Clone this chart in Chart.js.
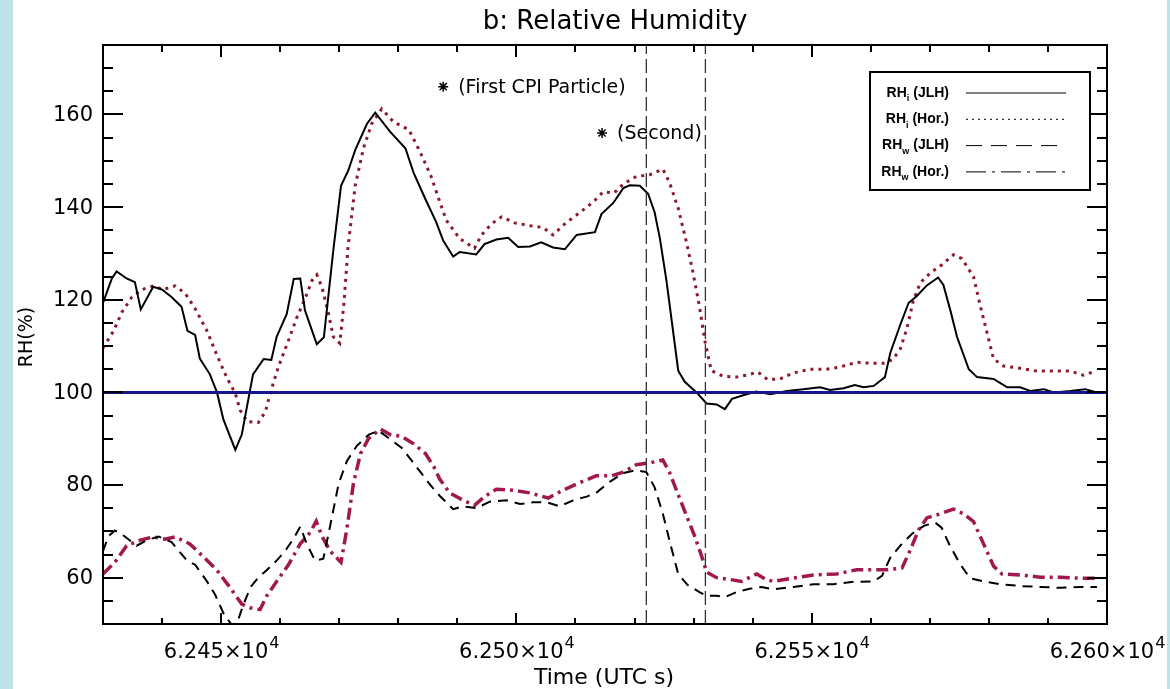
<!DOCTYPE html>
<html lang="en">
<head>
<meta charset="UTF-8">
<title>b: Relative Humidity</title>
<script src="https://cdn.jsdelivr.net/npm/chart.js@4.4.0/dist/chart.umd.min.js"></script>
<style>
  html, body { margin: 0; padding: 0; background: #bde3e6; }
  .wrap { position: absolute; left: 13px; top: 0; width: 1154px; height: 689px; background: #fff; }
</style>
</head>
<body>
<div class="wrap"><canvas id="rh"></canvas></div>
<script>
// RH over ice, JLH (solid)
const timeRhiJlh = [62430, 62431.5, 62432.3, 62434, 62435.4, 62436.4, 62438.5, 62440, 62441.6, 62443.3,
  62444.3, 62445.6, 62446.4, 62448.1, 62449.3, 62450.4, 62452.4, 62453.5, 62455.4, 62457.2,
  62458.5, 62459.4, 62461.1, 62462.3, 62463.4, 62464.2, 62466.2, 62467.4, 62469, 62470.3,
  62471.5, 62472.7, 62474.7, 62476.1, 62478.6, 62481.2, 62482.6, 62484.6, 62486.4, 62487.6,
  62489.3, 62490.4, 62493.2, 62494.6, 62496.6, 62498.6, 62500.3, 62502.3, 62504.2, 62506.2,
  62508.2, 62510.2, 62513.3, 62514.4, 62516.4, 62518.1, 62519.2, 62520.9, 62522.3, 62523.4,
  62524.3, 62525.4, 62527.4, 62528.5, 62530.5, 62532.2, 62533.9, 62535.3, 62536.5, 62538.4,
  62540.6, 62543, 62545.8, 62548.6, 62551.4, 62553.1, 62555.4, 62557.3, 62558.8, 62560.5,
  62562.4, 62563.3, 62565, 62566.4, 62567.8, 62569.5, 62571.4, 62572.3, 62573.5, 62574.6,
  62576.6, 62578, 62580.8, 62583.1, 62585.3, 62587, 62589.3, 62591, 62593.8, 62596.3, 62598.3];
const rhiJlh = [119.3, 124.6, 126.1, 124.6, 123.8, 117.9, 122.8, 122.2, 120.6, 118.5,
  113.3, 112.4, 107.3, 103.9, 100, 94.1, 87.6, 90.9, 103.9, 107.2,
  107, 112, 116.9, 124.5, 124.6, 117.7, 110.4, 111.9, 130.7, 144.6,
  147.8, 152.3, 158, 160.4, 156.3, 152.7, 147.4, 141.7, 136.8, 132.8,
  129.3, 130.3, 129.8, 132, 133, 133.4, 131.4, 131.5, 132.4, 131.3,
  130.9, 134, 134.6, 138.5, 140.9, 144.1, 144.7, 144.6, 142.9, 138.9,
  133.2, 124.2, 104.7, 102.3, 100, 97.6, 97.4, 96.4, 98.6, 99.4,
  100.2, 99.6, 100.3, 100.7, 101.1, 100.5, 100.9, 101.6, 101.1, 101.4,
  103.3, 108.5, 114.6, 119.3, 120.8, 123.1, 124.8, 123.2, 117.6, 112,
  105, 103.3, 102.9, 101.1, 101.1, 100.3, 100.7, 100, 100.3, 100.7, 100];

// RH over ice, Hor. (dotted)
const timeRhiHor = [62430, 62431.8, 62433.2, 62434.9, 62436.6, 62438.5, 62440.2, 62442.2, 62443.9, 62445.6,
  62447.6, 62449.3, 62451, 62452.4, 62453.2, 62454.4, 62456.3, 62457.5, 62458.3, 62459.7,
  62461.4, 62462.8, 62464.2, 62465.4, 62466.2, 62467.1, 62468.2, 62469, 62470.1, 62470.8,
  62471.5, 62472.7, 62474.1, 62475.5, 62477.2, 62479.2, 62481.8, 62483.7, 62485.5, 62486.8,
  62488.1, 62490.4, 62492.9, 62494.1, 62495.8, 62497.5, 62499.7, 62502.3, 62504.5, 62506.2,
  62508.2, 62510.4, 62513, 62514.7, 62516.6, 62518.1, 62520.3, 62522.6, 62524.8, 62525.9,
  62527.4, 62528.8, 62529.9, 62531, 62531.9, 62533, 62535, 62537.2, 62538.9, 62540.9,
  62542.5, 62544.6, 62546.9, 62549.7, 62552.5, 62554.8, 62557.6, 62559.9, 62562.4, 62563.8,
  62565, 62566.1, 62567.2, 62568.4, 62570.1, 62572.1, 62574, 62575.4, 62577.4, 62578.5,
  62579.7, 62580.8, 62582.5, 62585.3, 62588.1, 62591, 62593.8, 62596, 62598];
const rhiHor = [109.6, 113.3, 117.3, 120.6, 122.2, 123, 122.2, 123, 121.4, 118.1,
  113.3, 108, 103.1, 99.8, 96.2, 93.7, 93.5, 95.8, 99.8, 105.5,
  111.2, 116.1, 120.2, 124.2, 125.4, 122.6, 116.9, 112, 110.6, 119.3,
  131.5, 144.6, 152.7, 158, 161.2, 158.4, 156.7, 151.9, 146.8, 142,
  137.2, 133.2, 131.1, 134, 136.4, 137.9, 136.6, 136, 135.6, 134,
  136.4, 138.5, 141.1, 143.3, 143.1, 145, 146.6, 147, 148.2, 145.4,
  139.7, 132.4, 125.9, 118.5, 111.2, 104.7, 103.5, 103.3, 103.7, 104.4,
  102.8, 102.9, 104.2, 105, 105, 105.5, 106.5, 106.3, 106.3, 107.2,
  109.4, 113.7, 119.8, 123.7, 125.8, 127.6, 129.7, 128.9, 125, 118.9,
  112.8, 107.2, 105.7, 105.2, 104.6, 104.6, 104.6, 103.7, 104.6];

// RH over water, JLH (dashed)
const timeRhwJlh = [62430, 62430.9, 62432, 62433.7, 62435.7, 62437.4, 62439.4, 62441.6, 62444.2, 62445.6,
  62447.6, 62449, 62450.4, 62451.8, 62452.7, 62453.8, 62455, 62456.3, 62457.7, 62459.4,
  62460.8, 62462.3, 62463.4, 62464.5, 62465.9, 62467.3, 62468.5, 62469.9, 62471.3, 62473,
  62475, 62476.7, 62478.6, 62480.6, 62482.3, 62484, 62485.5, 62487, 62489.3, 62490.9,
  62493.2, 62495.5, 62498.3, 62500.6, 62502.8, 62505.1, 62507.3, 62509.6, 62511.9, 62513.5,
  62515.8, 62518.1, 62520.3, 62522, 62523.4, 62524.8, 62525.9, 62527.4, 62529, 62531,
  62532.2, 62533.9, 62535.3, 62537.3, 62539.5, 62541.5, 62543.5, 62546.9, 62550.3, 62553.7,
  62557.1, 62560.5, 62561.9, 62563.3, 62565, 62567, 62569, 62570.9, 62572, 62573.4,
  62575.1, 62576.8, 62579.1, 62581.9, 62585.3, 62588.7, 62592.1, 62595.5, 62598.3];
const rhwJlh = [65.7, 68.9, 70.2, 68.9, 66.9, 68.1, 68.9, 67.7, 63.7, 62.8,
  59.2, 56.3, 52.3, 49.8, 50.2, 54.3, 58, 60, 61.6, 63.7,
  65.7, 68.5, 71, 67.3, 63.7, 64.1, 71.4, 80.3, 85.2, 88.5,
  90.9, 91.7, 89.9, 88, 85.2, 82.4, 79.9, 77.7, 74.8, 75.4,
  75, 76.4, 76.7, 75.9, 76.3, 76.3, 75.4, 76.7, 77.5, 78.3,
  80.7, 82.6, 83.2, 82.8, 79.5, 73.8, 68.1, 60.8, 58.4, 56.9,
  56.1, 56.1, 55.8, 56.9, 57.6, 58, 57.5, 58, 58.6, 58.6,
  59.1, 59.2, 60.4, 64.3, 66.9, 69.5, 71.2, 71.9, 70.8, 66.9,
  63, 59.9, 59.2, 58.6, 58.2, 58, 57.8, 58, 58];

// RH over water, Hor. (dash-dot)
const timeRhwHor = [62430, 62432, 62434, 62436.3, 62438.5, 62440.5, 62442.2, 62444.7, 62447, 62449.3,
  62451.2, 62453.5, 62454.9, 62456.6, 62457.7, 62459.4, 62461.4, 62463.4, 62465.1, 62466.1,
  62467.1, 62468.5, 62470.3, 62471.3, 62472.4, 62473.6, 62475, 62477, 62478.6, 62480.6,
  62482.6, 62484.6, 62486, 62487, 62488.7, 62490.7, 62492.9, 62494.6, 62496.6, 62499.4,
  62502.3, 62505.4, 62507.9, 62510.7, 62513.5, 62516.1, 62518.1, 62520.3, 62522.6, 62524.8,
  62525.9, 62527.4, 62528.8, 62530.2, 62531.3, 62532.2, 62533.9, 62536.2, 62538.1, 62540.7,
  62542.3, 62543.5, 62546.9, 62550.3, 62554.2, 62557.6, 62560.5, 62562.7, 62565.3, 62566.7,
  62568.1, 62569.5, 62571.8, 62574, 62575.7, 62577.4, 62579.1, 62580.8, 62582.2, 62585.3,
  62588.7, 62592.1, 62595.5, 62598.3];
const rhwHor = [60.8, 63.3, 66.9, 68.1, 68.8, 68.3, 68.8, 67.3, 64.5, 61.6,
  58.4, 54.3, 53.5, 53.1, 56, 59.2, 62.8, 67.3, 69.8, 72.2,
  68.9, 65.7, 63.3, 70.6, 80.3, 86.8, 90.1, 92.1, 90.9, 90.5,
  88.9, 86.8, 84, 81.3, 78.3, 76.9, 75.6, 77.5, 79.1, 78.9,
  78.3, 77.2, 78.9, 80.5, 82, 82, 82.8, 84.4, 84.8, 85.4,
  82.8, 77.9, 73.4, 68.9, 64.9, 61.2, 60, 59.6, 59.2, 60.8,
  59.6, 59.2, 59.9, 60.6, 60.8, 61.7, 61.7, 61.7, 62.1, 66,
  70.3, 72.9, 73.8, 74.8, 73.8, 72.1, 67.3, 62.5, 60.8, 60.6,
  60.1, 60.1, 59.9, 59.9];

// saturation line and the two sampling-interval markers
const satTime = [62430, 62600];
const satRh = [100, 100];
const intervalTimes = [62522, 62532];

// particle annotations
const markerTime = [62487.6, 62514.5];
const markerRh = [166, 156];
const markerText = ['(First CPI Particle)', '(Second)'];

// axes
const xMin = 62430, xMax = 62600, yMin = 50, yMax = 175;
const xTickValues = [62450, 62500, 62550, 62600];
const xTickMantissa = ['6.245\u00d710', '6.250\u00d710', '6.255\u00d710', '6.260\u00d710'];
const xTickExponent = '4';
const yTickValues = [60, 80, 100, 120, 140, 160];
const yTickLabels = ['60', '80', '100', '120', '140', '160'];

// legend
const legendSub = ['i', 'i', 'w', 'w'];
const legendSource = ['(JLH)', '(Hor.)', '(JLH)', '(Hor.)'];

const FONT = '"DejaVu Sans", sans-serif';
const pts = (xs, ys) => xs.map((x, i) => ({ x: x, y: ys[i] }));

const frame = {
  id: 'frame',
  afterDatasetsDraw(chart) {
    const { ctx, chartArea: a, scales: { x, y } } = chart;
    ctx.save();
    ctx.strokeStyle = '#000';
    ctx.lineWidth = 2;
    ctx.setLineDash([]);
    ctx.strokeRect(a.left, a.top, a.right - a.left, a.bottom - a.top);
    ctx.beginPath();
    for (let v = 55; v < yMax; v += 5) {
      const py = Math.round(y.getPixelForValue(v));
      const len = (v % 20 === 0) ? 20 : 10;
      ctx.moveTo(a.left, py); ctx.lineTo(a.left + len, py);
      ctx.moveTo(a.right, py); ctx.lineTo(a.right - len, py);
    }
    for (let v = 62440; v < xMax; v += 10) {
      const px = Math.round(x.getPixelForValue(v));
      const major = v % 50 === 0;
      ctx.moveTo(px, a.bottom); ctx.lineTo(px, a.bottom - (major ? 11 : 6));
      ctx.moveTo(px, a.top); ctx.lineTo(px, a.top + (major ? 12 : 7));
    }
    ctx.stroke();
    ctx.restore();
  },
  afterDraw(chart) {
    const { ctx, chartArea: a, scales: { x, y } } = chart;
    ctx.save();
    ctx.fillStyle = '#000';

    // title
    ctx.font = '26px ' + FONT;
    ctx.textAlign = 'center';
    ctx.textBaseline = 'middle';
    ctx.fillText('b: Relative Humidity', 602, 22);

    // y tick labels
    ctx.font = '21px ' + FONT;
    ctx.textAlign = 'right';
    yTickValues.forEach((v, i) => ctx.fillText(yTickLabels[i], a.left - 10, y.getPixelForValue(v) + 1));

    // x tick labels with exponent
    ctx.textBaseline = 'alphabetic';
    ctx.textAlign = 'left';
    xTickValues.forEach((v, i) => {
      ctx.font = '21px ' + FONT;
      const w1 = ctx.measureText(xTickMantissa[i]).width;
      ctx.font = '16px ' + FONT;
      const w2 = ctx.measureText(xTickExponent).width;
      const left = x.getPixelForValue(v) - (w1 + w2) / 2;
      ctx.font = '21px ' + FONT;
      ctx.fillText(xTickMantissa[i], left, 658);
      ctx.font = '16px ' + FONT;
      ctx.fillText(xTickExponent, left + w1 + 1, 648);
    });

    // axis titles
    ctx.font = '22px ' + FONT;
    ctx.textAlign = 'center';
    ctx.fillText('Time (UTC s)', (a.left + a.right) / 2 - 1, 684);
    ctx.save();
    ctx.translate(14, 337);
    ctx.rotate(-Math.PI / 2);
    ctx.font = '19px ' + FONT;
    ctx.textBaseline = 'middle';
    ctx.fillText('RH(%)', 0, 0);
    ctx.restore();

    // annotation text beside the asterisks
    ctx.font = '19px ' + FONT;
    ctx.textAlign = 'left';
    ctx.textBaseline = 'middle';
    markerText.forEach((t, i) => {
      ctx.fillText(t, x.getPixelForValue(markerTime[i]) + 15, y.getPixelForValue(markerRh[i]) + 1);
    });

    // legend box
    const bx = 857, by = 72, bw = 220, bh = 118;
    ctx.fillStyle = '#fff';
    ctx.fillRect(bx, by, bw, bh);
    ctx.strokeStyle = '#000';
    ctx.lineWidth = 2;
    ctx.strokeRect(bx, by, bw, bh);
    const dashes = [[], [2, 4], [16, 9], [20, 6, 3, 6]];
    ctx.fillStyle = '#000';
    legendSource.forEach((src, i) => {
      const ry = 93 + i * 26.3;
      ctx.font = 'bold 14px "Liberation Sans", Arial, sans-serif';
      const wSrc = ctx.measureText(' ' + src).width;
      const wRH = ctx.measureText('RH').width;
      ctx.font = 'bold 9px "Liberation Sans", Arial, sans-serif';
      const wSub = ctx.measureText(legendSub[i]).width;
      const right = 936;
      const start = right - wSrc - wSub - wRH;
      ctx.textAlign = 'left';
      ctx.textBaseline = 'middle';
      ctx.font = 'bold 14px "Liberation Sans", Arial, sans-serif';
      ctx.fillText('RH', start, ry);
      ctx.font = 'bold 9px "Liberation Sans", Arial, sans-serif';
      ctx.fillText(legendSub[i], start + wRH, ry + 6);
      ctx.font = 'bold 14px "Liberation Sans", Arial, sans-serif';
      ctx.fillText(' ' + src, start + wRH + wSub, ry);
      ctx.beginPath();
      ctx.setLineDash(dashes[i]);
      ctx.lineWidth = 1;
      ctx.moveTo(953, ry);
      ctx.lineTo(1053, ry);
      ctx.stroke();
    });
    ctx.restore();
  }
};

const ctx = document.getElementById('rh').getContext('2d');
const chart = new Chart(ctx, {
  type: 'line',
  data: {
    datasets: [
      {
        label: 'RH = 100%',
        data: pts(satTime, satRh),
        borderColor: '#16168a',
        borderWidth: 3
      },
      {
        label: 'interval start',
        data: pts([intervalTimes[0], intervalTimes[0]], [yMin, yMax]),
        borderColor: '#333',
        borderWidth: 1.3,
        borderDash: [14, 5]
      },
      {
        label: 'interval end',
        data: pts([intervalTimes[1], intervalTimes[1]], [yMin, yMax]),
        borderColor: '#333',
        borderWidth: 1.3,
        borderDash: [14, 5]
      },
      {
        label: 'RHi (JLH)',
        data: pts(timeRhiJlh, rhiJlh),
        borderColor: '#000',
        borderWidth: 2
      },
      {
        label: 'RHi (Hor.)',
        data: pts(timeRhiHor, rhiHor),
        borderColor: '#8b1a2a',
        borderWidth: 3,
        borderDash: [3, 5]
      },
      {
        label: 'RHw (JLH)',
        data: pts(timeRhwJlh, rhwJlh),
        borderColor: '#000',
        borderWidth: 2,
        borderDash: [10, 7]
      },
      {
        label: 'RHw (Hor.)',
        data: pts(timeRhwHor, rhwHor),
        borderColor: '#a0184e',
        borderWidth: 3.5,
        borderDash: [12, 5, 3, 5]
      },
      {
        label: 'CPI particles',
        type: 'scatter',
        data: pts(markerTime, markerRh),
        pointStyle: 'star',
        pointRadius: 5,
        borderColor: '#000',
        borderWidth: 1.5,
        showLine: false
      }
    ]
  },
  options: {
    responsive: true,
    maintainAspectRatio: false,
    animation: false,
    events: [],
    layout: { padding: { left: 90, right: 60, top: 45, bottom: 65 } },
    elements: { point: { radius: 0 }, line: { tension: 0, fill: false } },
    scales: {
      x: { type: 'linear', min: xMin, max: xMax, display: false },
      y: { type: 'linear', min: yMin, max: yMax, display: false }
    },
    plugins: { legend: { display: false }, tooltip: { enabled: false }, title: { display: false } }
  },
  plugins: [frame]
});
</script>
</body>
</html>
